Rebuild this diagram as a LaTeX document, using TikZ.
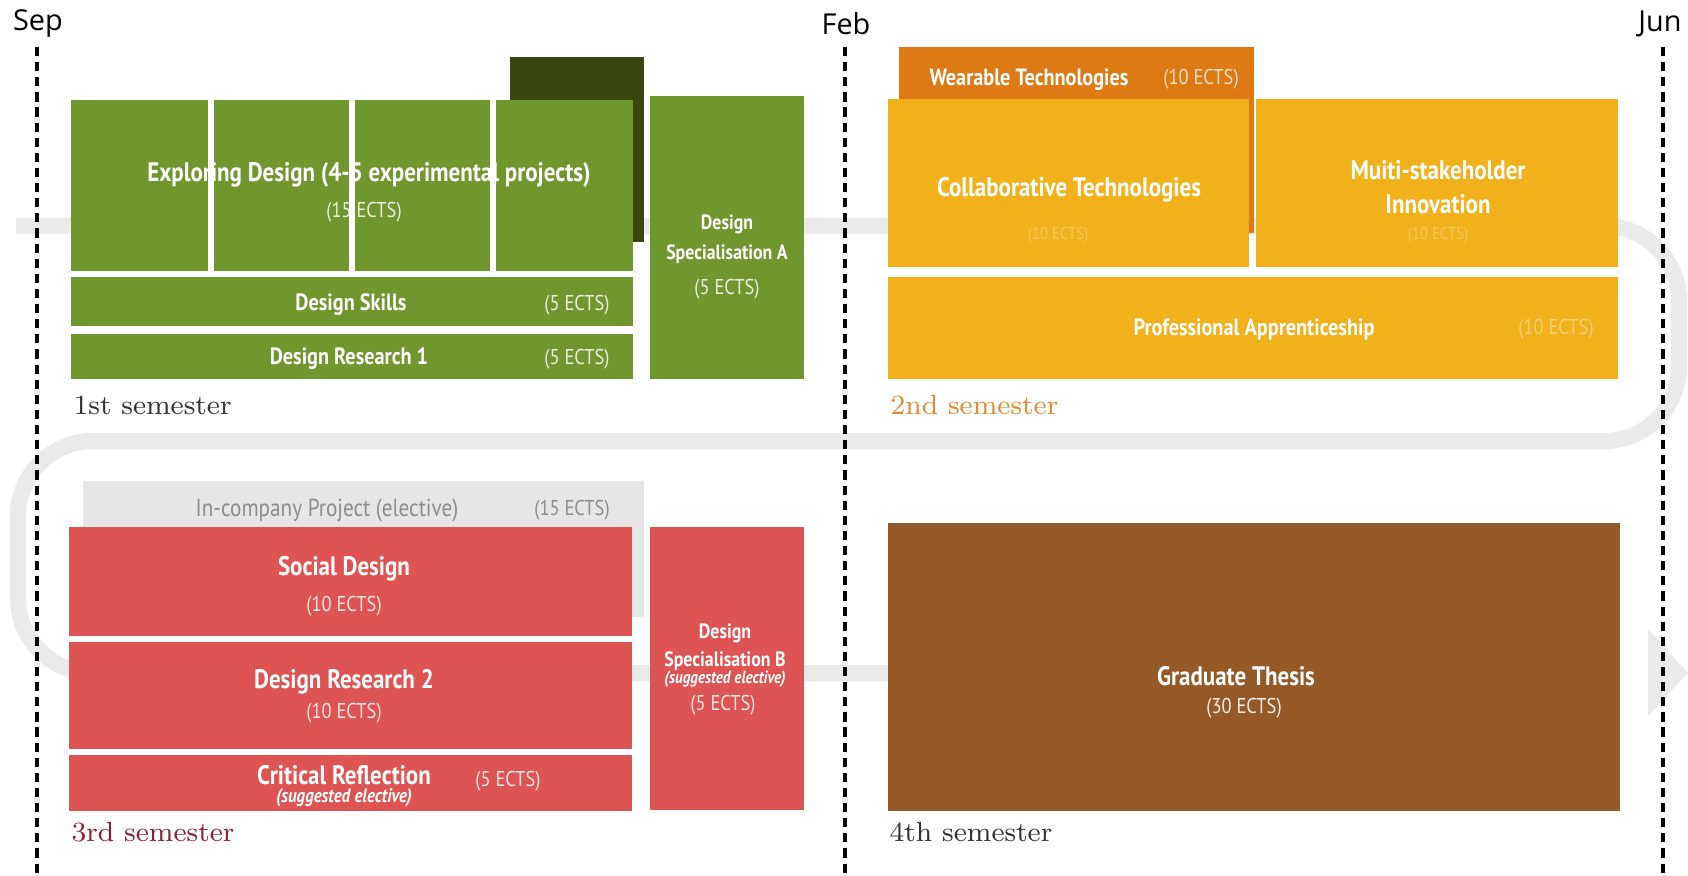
\documentclass[tikz,border=0pt]{standalone}
\usepackage{fontspec}
\usetikzlibrary{positioning,fit,arrows.meta}

\newfontfamily\boxfont[FakeStretch=0.86]{PT Sans}
\newfontfamily\monthfont{Open Sans}

\definecolor{moss}{RGB}{112,150,46}
\definecolor{mossdark}{RGB}{57,70,14}
\definecolor{mustard}{RGB}{240,177,26}
\definecolor{amber}{RGB}{221,122,20}
\definecolor{coral}{RGB}{222,84,82}
\definecolor{umber}{RGB}{149,89,40}
\definecolor{trackgray}{RGB}{234,234,234}
\definecolor{elective}{RGB}{230,230,230}

\tikzset{
  course/.style={rectangle, draw=none, inner sep=0pt, outer sep=0pt},
  title/.style={text=white, inner sep=0pt, align=center,
    font=\boxfont\bfseries\fontsize{7.6}{9.6}\selectfont},
  subtitle/.style={text=white, inner sep=0pt, align=center,
    font=\boxfont\bfseries\fontsize{6.7}{8.4}\selectfont},
  ects/.style={inner sep=0pt, font=\boxfont\fontsize{6.1}{7}\selectfont},
  note/.style={text=white, inner sep=0pt,
    font=\boxfont\bfseries\itshape\fontsize{5.6}{6.5}\selectfont},
  semester/.style={anchor=west, inner sep=0pt, font=\fontsize{7.9}{9}\selectfont},
  month/.style={inner sep=0pt, font=\monthfont\fontsize{8.2}{9}\selectfont},
  divider/.style={line width=1.4pt, dash pattern=on 2.6pt off 1.7pt},
  track/.style={draw=trackgray, line width=4.6pt},
}

\begin{document}
\begin{tikzpicture}[x=0.01cm, y=-0.01cm]
\useasboundingbox (0,0) rectangle (1688,875);

% the path through the four semesters
\coordinate (start) at (16,226);
\coordinate (turnA) at (1679,226);
\coordinate (turnB) at (1679,441);
\coordinate (turnC) at (18,441);
\coordinate (turnD) at (18,673);
\coordinate (finish) at (1688,673);
\draw[track, rounded corners=0.75cm] (start) -- (turnA) -- (turnB) -- (turnC) -- (turnD) -- ([xshift=-36]finish);
\fill[trackgray] (1648,629) -- (finish) -- (1648,716) -- cycle;

% 1st semester
\node[course, fill=mossdark, fit={(510,57) (644,242)}] (projbg) {};
\fill[white] (71,100) rectangle (633,271);
\node[course, fill=moss, fit={(71,100) (208,271)}] (col1) {};
\node[course, fill=moss, fit={(214,100) (349,271)}] (col2) {};
\node[course, fill=moss, fit={(355,100) (490,271)}] (col3) {};
\node[course, fill=moss, fit={(496,100) (633,271)}] (col4) {};
\node[course, fill=moss, fit={(71,277) (633,326)}] (skills) {};
\node[course, fill=moss, fit={(71,334) (633,379)}] (resA) {};
\node[course, fill=moss, fit={(650,96) (804,379)}] (specA) {};

\node[title] (explore) at (369,175) {Exploring Design (4-5 experimental projects)};
\node[ects, text=white!85!moss] at (364,212) {(15 ECTS)};
% white gaps cut through the title
\fill[white] (208,100) rectangle (214,271);
\fill[white] (349,100) rectangle (355,271);
\fill[white] (490,100) rectangle (496,271);

\node[subtitle] at (351,305) {Design Skills};
\node[ects, text=white!85!moss] at (577,305) {(5 ECTS)};
\node[subtitle] at (349,359) {Design Research 1};
\node[ects, text=white!85!moss] at (577,359) {(5 ECTS)};
\node[subtitle, font=\boxfont\bfseries\fontsize{5.9}{8.6}\selectfont] at (727,239) {Design\\Specialisation A};
\node[ects, text=white!85!moss] at (727,289) {(5 ECTS)};

\node[semester, text=black!80] (sem1) at (73,405) {1st semester};

% 2nd semester
\node[course, fill=amber, fit={(899,47) (1254,233)}] (wear) {};
\node[course, fill=mustard, fit={(888,99) (1249,267)}] (collab) {};
\node[course, fill=mustard, fit={(1256,99) (1618,267)}] (multi) {};
\node[course, fill=mustard, fit={(888,277) (1618,379)}] (appr) {};

\node[subtitle] at (1029,80) {Wearable Technologies};
\node[ects, text=white!75!amber] at (1201,79) {(10 ECTS)};
\node[title] at (1069,190) {Collaborative Technologies};
\node[ects, text=white!30!mustard, font=\boxfont\fontsize{4.9}{6}\selectfont] at (1058,235) {(10 ECTS)};
\node[title] at (1438,187) {Muiti-stakeholder\\Innovation};
\node[ects, text=white!30!mustard, font=\boxfont\fontsize{4.9}{6}\selectfont] at (1438,235) {(10 ECTS)};
\node[subtitle] at (1254,329) {Professional Apprenticeship};
\node[ects, text=white!40!mustard] at (1556,329) {(10 ECTS)};

\node[semester, text={rgb,255:red,224;green,138;blue,48}] (sem2) at (890,405) {2nd semester};

% 3rd semester
\node[course, fill=elective, fit={(83,481) (644,617)}] (incomp) {};
\node[course, fill=coral, fit={(69,527) (632,636)}] (social) {};
\node[course, fill=coral, fit={(69,642) (632,749)}] (resB) {};
\node[course, fill=coral, fit={(69,755) (632,811)}] (crit) {};
\node[course, fill=coral, fit={(650,527) (804,810)}] (specB) {};

\node[ects, text=black!45, font=\boxfont\fontsize{7}{8}\selectfont] at (327,510) {In-company Project (elective)};
\node[ects, text=black!45] at (572,510) {(15 ECTS)};
\node[title] at (344,569) {Social Design};
\node[ects, text=white!85!coral] at (344,606) {(10 ECTS)};
\node[title] at (344,682) {Design Research 2};
\node[ects, text=white!85!coral] at (344,713) {(10 ECTS)};
\node[title] at (344,775) {Critical Reflection};
\node[note] at (344,798) {(suggested elective)};
\node[ects, text=white!85!coral] at (508,781) {(5 ECTS)};
\node[subtitle, font=\boxfont\bfseries\fontsize{5.9}{8}\selectfont] at (725,647) {Design\\Specialisation B};
\node[note, font=\boxfont\bfseries\itshape\fontsize{5}{6}\selectfont] at (725,679) {(suggested elective)};
\node[ects, text=white!85!coral] at (723,705) {(5 ECTS)};

\node[semester, text={rgb,255:red,139;green,32;blue,48}] (sem3) at (71,832) {3rd semester};

% 4th semester
\node[course, fill=umber, fit={(888,523) (1620,811)}] (thesis) {};
\node[title] at (1236,676) {Graduate Thesis};
\node[ects, text=white!90!umber] at (1244,708) {(30 ECTS)};

\node[semester, text=black!80] (sem4) at (889,832) {4th semester};

% months
\node[month] (sep) at (38,24) {Sep};
\node[month] (feb) at (846,24) {Feb};
\node[month] (jun) at (1660,24) {Jun};
\coordinate (septop) at (37,47);
\coordinate (sepbot) at (37,875);
\coordinate (febtop) at (845,47);
\coordinate (febbot) at (845,875);
\coordinate (juntop) at (1663,47);
\coordinate (junbot) at (1663,875);
\draw[divider] (septop) -- (sepbot);
\draw[divider] (febtop) -- (febbot);
\draw[divider] (juntop) -- (junbot);
\end{tikzpicture}
\end{document}
